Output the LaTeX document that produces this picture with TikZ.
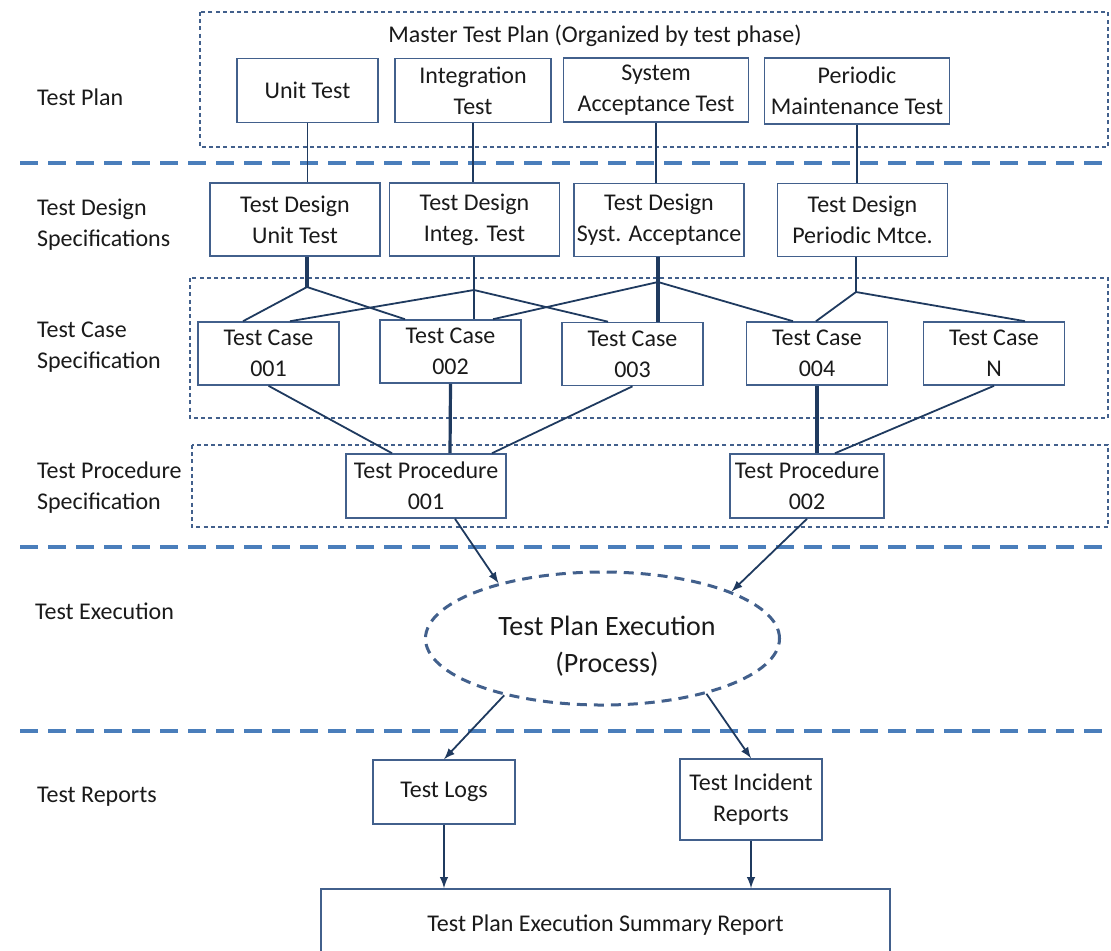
\documentclass[tikz,border=0pt]{standalone}
\usepackage{fontspec}
\setmainfont{Carlito}
\usepackage{xcolor}
\usepackage{tikz}
\usetikzlibrary{shapes,arrows}
\usetikzlibrary{positioning}
\usetikzlibrary{calc}
\definecolor{boxline}{HTML}{42608C}
\definecolor{edgeline}{HTML}{1F3A5F}
\definecolor{sepline}{HTML}{4A7EBB}
\definecolor{txt}{HTML}{1A1A1A}
\tikzstyle{block} = [rectangle, draw=boxline, line width=0.8pt, text=txt,
    align=center, inner sep=0pt, font=\fontsize{12}{15.5}\selectfont]
\tikzstyle{phase} = [block, minimum height=32pt]
\tikzstyle{design} = [block, minimum width=85pt, minimum height=36.5pt]
\tikzstyle{tcase} = [block, minimum width=70.5pt, minimum height=31.5pt]
\tikzstyle{tproc} = [block, minimum height=32pt]
\tikzstyle{label} = [anchor=west, align=left, text=txt,
    font=\fontsize{12}{15.5}\selectfont]
\tikzstyle{group} = [draw=boxline, line width=0.8pt, dash pattern=on 2pt off 1.6pt]
\tikzstyle{sep} = [draw=sepline, line width=2pt, dash pattern=on 9pt off 5pt]
\tikzstyle{edge} = [draw=edgeline, line width=0.9pt]
\tikzstyle{bold edge} = [draw=edgeline, line width=1.6pt]
\tikzstyle{line} = [draw=edgeline, line width=0.9pt, -latex]
\tikzstyle{process} = [ellipse, draw=boxline, line width=1.5pt,
    dash pattern=on 5pt off 3.5pt, minimum width=177pt, minimum height=66.5pt]

\begin{document}
\begin{tikzpicture}[x=0.5pt, y=-0.5pt]
  \useasboundingbox (0,0) rectangle (1111,950);

  % Row labels
  \node [label] (lplan) at (30,97) {Test Plan};
  \node [label] (ldesign) at (30,224.5) {Test Design\\Specifications};
  \node [label] (lcase) at (30,347.5) {Test Case\\Specification};
  \node [label] (lproc) at (30,488) {Test Procedure\\Specification};
  \node [label] (lexec) at (28,611) {Test Execution};
  \node [label] (lrep) at (30,797) {Test Reports};

  % Separators and groups
  \draw [sep] (20,163) -- (1111,163);
  \draw [sep] (20,547) -- (1111,547);
  \draw [sep] (20,731) -- (1111,731);
  \draw [group] (200,12) rectangle (1108,147);
  \draw [group] (190,278) rectangle (1108,418);
  \draw [group] (192,445) rectangle (1108,527);

  % Place nodes
  \node [text=txt, font=\fontsize{12}{15.5}\selectfont] (master) at (595,36)
        {Master Test Plan (Organized by test phase)};
  \node [phase, minimum width=70.5pt] (unit) at (307.5,90.5) {Unit Test};
  \node [phase, minimum width=78pt] (integ) at (473,90.5) {Integration\\Test};
  \node [phase, minimum width=92.5pt] (syst) at (656,90) {System\\Acceptance Test};
  \node [phase, minimum width=92.5pt, minimum height=33pt] (period) at (857,91)
        {Periodic\\Maintenance Test};

  \node [design] (dunit) at (295,219.5) {Test Design\\Unit Test};
  \node [design] (dinteg) at (474.5,219.5) {Test Design\\Integ. Test};
  \node [design] (dsyst) at (659,220) {Test Design\\Syst. Acceptance};
  \node [design] (dperiod) at (862.5,220) {Test Design\\Periodic Mtce.};

  \coordinate (junit) at (307,287);
  \coordinate (jinteg) at (474,290);
  \coordinate (jsyst) at (658,282);
  \coordinate (jperiod) at (856,292);

  \node [tcase] (tc1) at (268.5,353.5) {Test Case\\001};
  \node [tcase] (tc2) at (450.5,351.5) {Test Case\\002};
  \node [tcase] (tc3) at (632.5,354) {Test Case\\003};
  \node [tcase] (tc4) at (817,353.5) {Test Case\\004};
  \node [tcase] (tcn) at (994,353.5) {Test Case\\N};

  \node [tproc, minimum width=80pt] (tp1) at (426,486) {Test Procedure\\001};
  \node [tproc, minimum width=77pt] (tp2) at (807,486) {Test Procedure\\002};

  \node [process] (exec) at (602.5,638.5) {};
  \node [align=center, text=txt, font=\fontsize{14}{18.5}\selectfont] (exectext)
        at (607,646) {Test Plan Execution\\(Process)};

  \node [block, minimum width=71pt, minimum height=32pt] (logs) at (444,792) {Test Logs};
  \node [block, minimum width=71pt, minimum height=40.5pt] (incident) at (751,799.5)
        {Test Incident\\Reports};
  \node [block, minimum width=284.5pt, minimum height=36pt] (summary) at (605.5,925)
        {Test Plan Execution Summary Report};

  % Draw edges
  \path [edge] (unit.south) -- (unit.south |- dunit.north);
  \path [edge] (integ.south) -- (integ.south |- dinteg.north);
  \path [edge] (syst.south) -- (syst.south |- dsyst.north);
  \path [edge] (period.south) -- (period.south |- dperiod.north);

  \path [bold edge] (junit |- dunit.south) -- (junit);
  \path [edge] (jinteg |- dinteg.south) -- (jinteg);
  \path [bold edge] (jsyst |- dsyst.south) -- (jsyst);
  \path [edge] (jperiod |- dperiod.south) -- (jperiod);

  \path [edge] (junit) -- ($(tc1.north)+(-25.5,0)$);
  \path [edge] (junit) -- ($(tc2.north)+(-45.5,0)$);
  \path [edge] (jinteg) -- ($(tc1.north)+(21.5,0)$);
  \path [edge] (jinteg) -- (jinteg |- tc2.north);
  \path [edge] (jinteg) -- ($(tc3.north)+(-24.5,0)$);
  \path [edge] (jsyst) -- ($(tc2.north)+(42.5,0)$);
  \path [bold edge] (jsyst) -- (jsyst |- tc3.north);
  \path [edge] (jsyst) -- ($(tc4.north)+(-24,0)$);
  \path [edge] (jperiod) -- ($(tc4.north)+(-1,0)$);
  \path [edge] (jperiod) -- ($(tcn.north)+(31,0)$);

  \path [edge] (tc1.south) -- ($(tp1.north)+(-34,0)$);
  \path [bold edge] (tc2.south) -- ($(tp1.north)+(24,0)$);
  \path [edge] (tc3.south) -- ($(tp1.north)+(66,0)$);
  \path [bold edge] (tc4.south) -- (tc4.south |- tp2.north);
  \path [edge] (tcn.south) -- ($(tp2.north)+(28,0)$);

  \path [line] ($(tp1.south)+(29,0)$) -- (exec.152);
  \path [line] (tp2.south) -- (exec.20);
  \path [line] (exec.210) -- (logs.north);
  \path [line] (exec.332) -- (incident.north);
  \path [line] (logs.south) -- (logs.south |- summary.north);
  \path [line] (incident.south) -- (incident.south |- summary.north);
\end{tikzpicture}
\end{document}
